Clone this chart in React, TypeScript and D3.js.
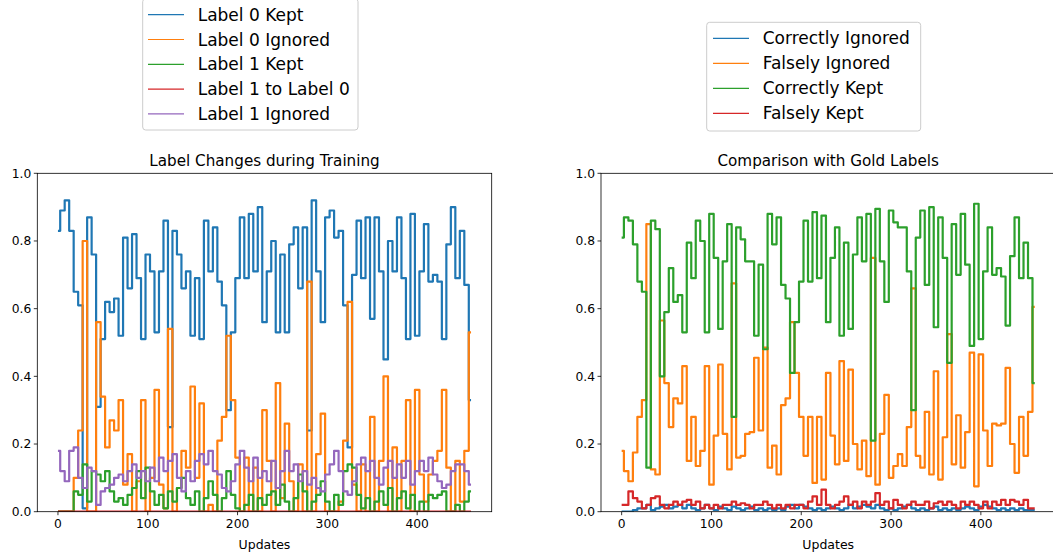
import React from "react";
import * as d3 from "d3";

const updates = [0,5,10,15,20,25,30,35,40,45,50,55,60,65,70,75,80,85,90,95,100,105,110,115,120,125,130,135,140,145,150,155,160,165,170,175,180,185,190,195,200,205,210,215,220,225,230,235,240,245,250,255,260,265,270,275,280,285,290,295,300,305,310,315,320,325,330,335,340,345,350,355,360,365,370,375,380,385,390,395,400,405,410,415,420,425,430,435,440,445,450,455,460];

const label0Kept = [.83,.89,.92,.83,.65,.61,.01,.87,.76,.31,.51,.62,.59,.63,.52,.81,.66,.82,.69,.51,.76,.71,.53,.71,.86,.25,.83,.76,.66,.71,.52,.69,.51,.86,.71,.84,.68,.61,.30,.53,.69,.87,.69,.88,.71,.90,.56,.71,.80,.53,.76,.53,.79,.84,.66,.84,.24,.92,.71,.56,.87,.89,.81,.83,.61,.19,.70,.86,.69,.87,.57,.87,.71,.45,.80,.71,.87,.69,.51,.88,.52,.71,.85,.68,.70,.68,.51,.79,.90,.69,.83,.67,.33];
const label0Ignored = [0,0,0,0,.10,.24,.80,0,0,.56,.34,.19,.27,.24,.33,.08,.17,0,.09,.33,0,.10,.36,.08,.01,.54,0,.07,.18,.13,.37,.10,.32,0,.02,0,.21,.28,.52,.33,.16,0,.16,0,.13,0,.30,.15,0,.38,.04,.26,.09,0,.14,0,.68,0,.17,.29,0,0,0,.03,.21,.62,.08,0,.14,0,.28,0,.15,.40,0,.19,0,.15,.33,0,.36,.11,.03,.11,.15,.18,.36,.13,0,.15,.03,.18,.53];
const label1Kept = [0,0,0,0,.06,.05,.14,.03,.12,.11,.09,.12,.06,.03,.04,.02,.05,.07,.12,.04,.13,.06,.02,.05,.01,.06,.03,.07,.10,.04,.02,.06,0,.04,.09,.05,0,.04,.12,.05,.01,0,.02,.05,0,.04,.02,.05,.06,.02,.08,.03,0,.04,.11,.06,0,.03,.05,.09,.03,0,.05,.02,.12,.14,.13,.05,.01,.04,0,.03,.06,.02,.07,0,.04,.06,.01,.05,0,.03,0,.05,.04,.05,.06,0,0,.02,0,.03,.06];
const label1ToLabel0 = [0,0,0,0,0,0,0,0,0,0,0,0,0,0,0,0,0,0,0,0,0,0,0,0,0,0,0,0,0,0,0,0,0,0,0,0,0,0,0,0,0,0,0,0,0,0,0,0,0,0,0,0,0,0,0,0,0,0,0,0,0,0,0,0,0,0,0,0,0,0,0,0,0,0,0,0,0,0,0,0,0,0,0,0,0,0,0,0,0,0,0,0,0];
const label1Ignored = [.18,.12,.09,.18,.19,.10,.07,.13,.12,.02,.06,.07,.08,.10,.11,.09,.12,.14,.10,.12,.09,.13,.09,.16,.12,.15,.17,.10,.06,.12,.09,.15,.17,.14,.18,.12,.11,.07,.06,.09,.14,.18,.13,.09,.16,.10,.12,.09,.15,.07,.12,.18,.12,.14,.09,.12,.08,.10,.07,.06,.11,.14,.18,.12,.06,.05,.09,.14,.16,.12,.15,.10,.08,.13,.15,.10,.14,.10,.15,.08,.12,.15,.12,.16,.11,.09,.07,.08,.12,.14,.14,.12,.08];

const correctlyIgnored = [0,0,0,.005,.01,.01,.02,.005,.01,.015,.02,.01,.015,.02,.01,.02,.01,.005,.01,.02,.01,.005,.015,.01,.005,.015,.01,.005,.01,.015,.005,.01,.005,.01,.005,.01,.005,.015,.02,.01,.02,.015,.01,.005,.01,.005,.01,.015,.01,.005,.01,.02,.01,.015,.02,.015,.01,.02,.01,.005,.01,.005,.01,.015,.02,.01,.005,.01,.005,.01,.015,.005,.01,.005,.01,.005,.01,.015,.01,.005,.015,.02,.015,.01,.005,.01,.005,.01,.005,.01,.005,.005,.005];
const falselyIgnored = [.18,.12,.09,.175,.28,.33,.85,.125,.11,.565,.38,.25,.335,.32,.43,.15,.28,.135,.18,.43,.08,.225,.435,.23,.125,.675,.16,.165,.23,.235,.455,.24,.485,.13,.195,.11,.315,.335,.56,.41,.28,.165,.28,.085,.28,.095,.41,.225,.14,.445,.15,.42,.20,.125,.21,.105,.75,.08,.23,.345,.10,.135,.17,.135,.25,.66,.165,.13,.295,.11,.415,.095,.22,.525,.14,.285,.13,.235,.47,.075,.465,.24,.135,.26,.255,.26,.425,.20,.115,.28,.165,.295,.605];
const correctlyKept = [.81,.87,.86,.79,.68,.65,.13,.86,.835,.40,.59,.72,.62,.64,.53,.795,.69,.86,.80,.53,.88,.75,.54,.74,.85,.28,.84,.805,.74,.74,.52,.73,.48,.88,.79,.87,.67,.63,.41,.56,.68,.86,.68,.885,.69,.875,.56,.75,.84,.52,.795,.54,.76,.87,.74,.88,.21,.895,.74,.62,.89,.855,.84,.84,.71,.30,.81,.89,.67,.90,.545,.87,.75,.44,.85,.70,.88,.73,.49,.91,.51,.71,.84,.70,.72,.695,.55,.755,.87,.69,.795,.69,.38];
const falselyKept = [.02,.02,.06,.04,.03,.01,.02,.04,.045,.02,.01,.02,.03,.02,.03,.035,.02,.03,.01,.02,.01,.02,.01,.02,.02,.03,.02,.025,.02,.01,.02,.02,.03,.02,.01,.02,.01,.02,.01,.02,.02,.01,.03,.045,.02,.065,.02,.01,.02,.03,.045,.02,.03,.01,.03,.02,.03,.055,.02,.03,.01,.035,.02,.01,.02,.03,.02,.02,.03,.01,.025,.03,.02,.03,.02,.01,.03,.02,.03,.02,.01,.03,.01,.03,.02,.035,.02,.035,.03,.02,.035,.01,.01];

const xTicks = [0, 100, 200, 300, 400];
const yTicks = [0, 0.2, 0.4, 0.6, 0.8, 1.0];

const leftSeries = [
  { name: "Label 0 Kept", values: label0Kept, color: "#1f77b4" },
  { name: "Label 0 Ignored", values: label0Ignored, color: "#ff7f0e" },
  { name: "Label 1 Kept", values: label1Kept, color: "#2ca02c" },
  { name: "Label 1 to Label 0", values: label1ToLabel0, color: "#d62728" },
  { name: "Label 1 Ignored", values: label1Ignored, color: "#9467bd" },
];
const rightSeries = [
  { name: "Correctly Ignored", values: correctlyIgnored, color: "#1f77b4" },
  { name: "Falsely Ignored", values: falselyIgnored, color: "#ff7f0e" },
  { name: "Correctly Kept", values: correctlyKept, color: "#2ca02c" },
  { name: "Falsely Kept", values: falselyKept, color: "#d62728" },
];

const FONT = "DejaVu Sans";
const TOP = 173.3;
const BOTTOM = 511.7;

function Panel({ left, right, title, series, id }: any) {
  const x = d3.scaleLinear().domain([-23, 483]).range([left, right]);
  const y = d3.scaleLinear().domain([0, 1]).range([BOTTOM, TOP]);
  const line = d3
    .line<number>()
    .x((_, i) => x(updates[i]))
    .y((d) => y(d))
    .curve(d3.curveStep);
  const cx = (left + right) / 2;
  return (
    <g>
      <defs>
        <clipPath id={id}>
          <rect x={left} y={TOP} width={right - left} height={BOTTOM - TOP} />
        </clipPath>
      </defs>
      <g clipPath={`url(#${id})`}>
        {series.map((s: any) => (
          <path key={s.name} d={line(s.values) || ""} fill="none" stroke={s.color} strokeWidth={2.2} strokeLinejoin="round" />
        ))}
      </g>
      <rect x={left} y={TOP} width={right - left} height={BOTTOM - TOP} fill="none" stroke="#000" strokeWidth={0.8} />
      {xTicks.map((t) => (
        <g key={t}>
          <line x1={x(t)} x2={x(t)} y1={BOTTOM} y2={BOTTOM + 3.5} stroke="#000" strokeWidth={0.8} />
          <text x={x(t)} y={BOTTOM + 16.5} textAnchor="middle" fontFamily={FONT} fontSize={12.3} fill="#000">{t}</text>
        </g>
      ))}
      {yTicks.map((t) => (
        <g key={t}>
          <line x1={left - 3.5} x2={left} y1={y(t)} y2={y(t)} stroke="#000" strokeWidth={0.8} />
          <text x={left - 6} y={y(t)} dy="0.36em" textAnchor="end" fontFamily={FONT} fontSize={12.3} fill="#000">{t.toFixed(1)}</text>
        </g>
      ))}
      <text x={cx} y={549} textAnchor="middle" fontFamily={FONT} fontSize={12.5} fill="#000">Updates</text>
      <text x={cx} y={166} textAnchor="middle" fontFamily={FONT} fontSize={15.2} fill="#000">{title}</text>
    </g>
  );
}

function Legend({ x0, y0, w, h, first, step, hx1, hx2, tx, series }: any) {
  return (
    <g>
      <rect x={x0} y={y0} width={w} height={h} rx={3} fill="#fff" fillOpacity={0.8} stroke="#cccccc" strokeWidth={1} />
      {series.map((s: any, i: number) => (
        <g key={s.name}>
          <line x1={hx1} x2={hx2} y1={first + i * step} y2={first + i * step} stroke={s.color} strokeWidth={1.2} />
          <text x={tx} y={first + i * step} dy="0.36em" fontFamily={FONT} fontSize={17} fill="#000">{s.name}</text>
        </g>
      ))}
    </g>
  );
}

export default function App() {
  return (
    <svg width={1053} height={554} style={{ position: "fixed", left: 0, top: 0, background: "#fff" }}>
      <rect x={0} y={0} width={1053} height={554} fill="#fff" />
      <Panel left={37.3} right={491.7} title="Label Changes during Training" series={leftSeries} id="clipL" />
      <Panel left={601} right={1055.4} title="Comparison with Gold Labels" series={rightSeries} id="clipR" />
      <Legend x0={142.7} y0={-1.3} w={215.3} h={131.3} first={14.7} step={24.8} hx1={148} hx2={184} tx={197.7} series={leftSeries} />
      <Legend x0={706.7} y0={22.3} w={214} h={108.7} first={38.3} step={25} hx1={713} hx2={749} tx={762.7} series={rightSeries} />
    </svg>
  );
}
